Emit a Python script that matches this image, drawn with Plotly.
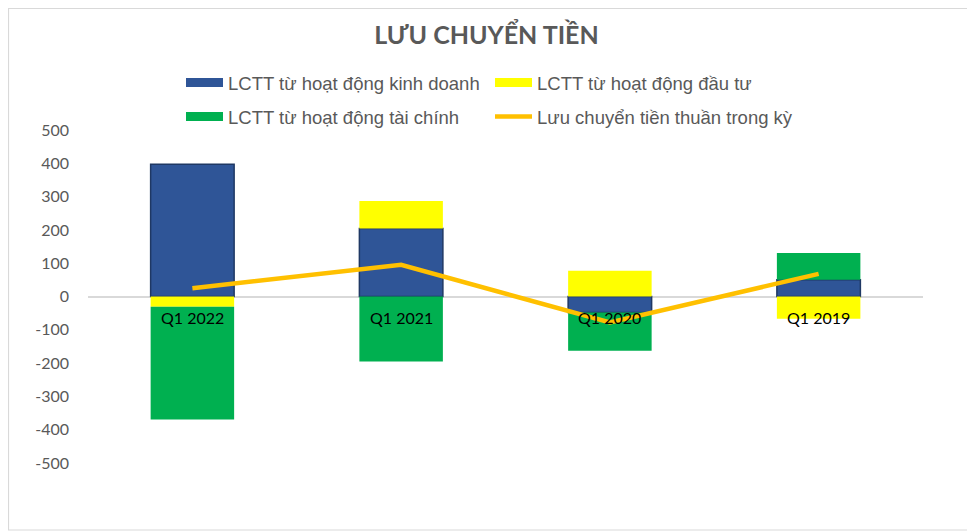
import plotly.graph_objects as go

categories = ["Q1 2022", "Q1 2021", "Q1 2020", "Q1 2019"]
kinh_doanh = [397, 204, -48, 50]
dau_tu = [-31, 83, 77, -67]
tai_chinh = [-338, -195, -115, 81]
thuan = [25, 95, -78, 68]
y_ticks = [500, 400, 300, 200, 100, 0, -100, -200, -300, -400, -500]
y_tick_text = ["500", "400", "300", "200", "100", "0", "-100", "-200", "-300", "-400", "-500"]

names = ["LCTT từ hoạt động kinh doanh", "LCTT từ hoạt động đầu tư",
         "LCTT từ hoạt động tài chính", "Lưu chuyển tiền thuần trong kỳ"]
colors = ["#2F5597", "#FFFF00", "#00B050", "#FFC000"]

OFF = 8  # page body margin
W, H = 975 - OFF, 531 - OFF
ml, mr, mt, mb = 88 - OFF, 52, 130 - OFF, 68
pw, ph = W - ml - mr, H - mt - mb

fig = go.Figure()
fig.add_bar(x=categories, y=kinh_doanh, name=names[0], showlegend=False, legendgroup="kd",
            marker=dict(color=colors[0], line=dict(color="#1F3864", width=1.5)))
fig.add_bar(x=categories, y=dau_tu, name=names[1], showlegend=False, legendgroup="dt",
            marker=dict(color=colors[1], line=dict(width=0)))
fig.add_bar(x=categories, y=tai_chinh, name=names[2], showlegend=False, legendgroup="tc",
            marker=dict(color=colors[2], line=dict(width=0)))
fig.add_scatter(x=categories, y=thuan, name=names[3], showlegend=False, legendgroup="lc",
                mode="lines", line=dict(color=colors[3], width=4.5))

# legend entries (bar series shown as wide bars, like the original)
legend_spec = [("kd", names[0], colors[0], 9, "legend"),
               ("dt", names[1], colors[1], 9, "legend"),
               ("tc", names[2], colors[2], 9, "legend2"),
               ("lc", names[3], colors[3], 4.5, "legend2")]
for grp, nm, col, wd, lg in legend_spec:
    fig.add_scatter(x=[None], y=[None], name=nm, legendgroup=grp, legend=lg,
                    mode="lines", line=dict(color=col, width=wd), hoverinfo="skip")

for c in categories:
    fig.add_annotation(x=c, y=0, text=c, showarrow=False, yanchor="top", yshift=-9,
                       font=dict(family="Lato", size=16, color="#000000"))

fig.add_shape(type="rect", xref="paper", yref="paper",
              x0=(-ml + 0.5) / pw, x1=(W - ml - 1) / pw,
              y0=(-mb + 1) / ph, y1=1 + (mt - 0.5) / ph,
              line=dict(color="#D9D9D9", width=1.2), layer="below")

leg_font = dict(family="Liberation Sans", size=18.5, color="#595959")
leg_common = dict(orientation="h", xanchor="left", yanchor="middle",
                  entrywidth=257, entrywidthmode="pixels", itemwidth=37,
                  font=leg_font, bgcolor="rgba(0,0,0,0)")

fig.update_layout(
    width=W, height=H,
    margin=dict(l=ml, r=mr, t=mt, b=mb, autoexpand=False),
    barmode="relative", bargap=0.6,
    plot_bgcolor="white", paper_bgcolor="white",
    title=dict(text="<b>LƯU CHUYỂN TIỀN</b>", x=0.5 - 5 / W, xanchor="center",
               y=1 - (35 - OFF) / H, yanchor="middle",
               font=dict(family="Lato", size=25, color="#595959")),
    legend=dict(x=(185 - 88 - 4) / pw, y=1 + (130 - 83) / ph, **leg_common),
    legend2=dict(x=(185 - 88 - 4) / pw, y=1 + (130 - 117) / ph, **leg_common),
    xaxis=dict(showticklabels=False, showgrid=False, zeroline=False, showline=False),
    yaxis=dict(range=[-500, 500], tickvals=y_ticks, ticktext=y_tick_text, showgrid=False,
               zeroline=True, zerolinecolor="#D9D9D9", zerolinewidth=1.5,
               showline=False, ticks="", ticklabelstandoff=18,
               tickfont=dict(family="Lato", size=16, color="#595959")),
)

fig.write_html("out.html")
